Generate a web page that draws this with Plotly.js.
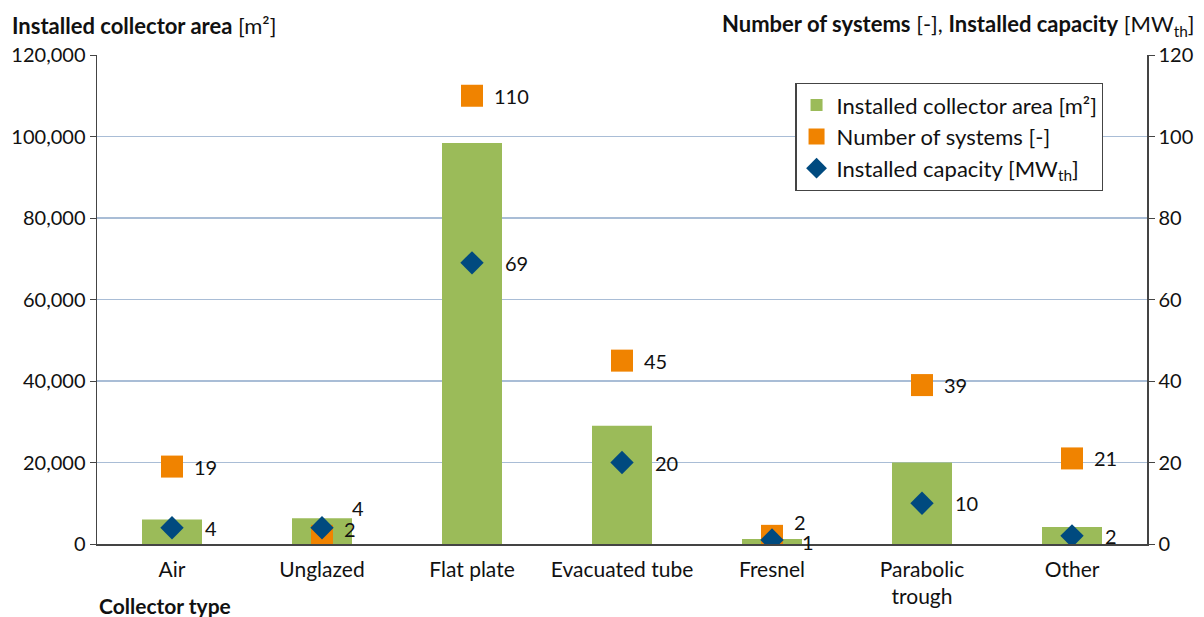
<!DOCTYPE html>
<html><head><meta charset="utf-8">
<script src="https://cdn.plot.ly/plotly-3.0.1.min.js"></script>
<style>html,body{margin:0;padding:0;background:#fff}#c{width:1204px;height:617px}</style>
</head><body><div id="c"></div>
<script>
const categories = ['Air','Unglazed','Flat plate','Evacuated tube','Fresnel','Parabolic<br>trough','Other'];
const collectorArea = [6000, 6300, 98400, 29000, 1200, 20000, 4200];
const numSystems = [19, 2, 110, 45, 2, 39, 21];
const capacity = [4, 4, 69, 20, 1, 10, 2];
const leftTicks = [0,20000,40000,60000,80000,100000,120000];
const rightTicks = [0,20,40,60,80,100,120];

const FONT = 'Lato, "Open Sans", sans-serif';
const green = '#9bbb59', orange = '#f08300', blue = '#004a7f';

// label nudges (style, not data) for overlapping labels
const sysShift = {1: 7, 4: 14};
const capShift = {1: 20, 4: -2};

const traces = [
  {type:'bar', x:categories, y:collectorArea, name:'Installed collector area [m²]',
   marker:{color:green}, width:0.4, yaxis:'y', hoverinfo:'skip'},
  {type:'scatter', mode:'markers', x:categories, y:numSystems, name:'Number of systems [-]',
   marker:{symbol:'square', size:22, color:orange}, yaxis:'y2', hoverinfo:'skip'},
  {type:'scatter', mode:'markers', x:categories, y:capacity, name:'Installed capacity [MW<sub>th</sub>]',
   marker:{symbol:'diamond', size:18, color:blue}, yaxis:'y2', hoverinfo:'skip'}
];

const annotations = [];
categories.forEach((c,i)=>{
  annotations.push({x:c, y:numSystems[i], xref:'x', yref:'y2', text:String(numSystems[i]),
    showarrow:false, xanchor:'left', yanchor:'middle', xshift:20, yshift:sysShift[i]||0,
    font:{family:FONT, size:20, color:'#111'}});
  annotations.push({x:c, y:capacity[i], xref:'x', yref:'y2', text:String(capacity[i]),
    showarrow:false, xanchor:'left', yanchor:'middle', xshift:(i===1||i===4)?28:31, yshift:capShift[i]||0,
    font:{family:FONT, size:20, color:'#111'}});
});
annotations.push({xref:'paper', yref:'paper', x:-0.083, y:1.061, xanchor:'left', yanchor:'middle',
  text:'<b>Installed collector area</b> [m²]', showarrow:false, font:{family:FONT, size:22, color:'#111'}});
annotations.push({xref:'paper', yref:'paper', x:1.048, y:1.061, xanchor:'right', yanchor:'middle',
  text:'<b>Number of systems</b> [-], <b>Installed capacity</b> [MW<sub>th</sub>]', showarrow:false, font:{family:FONT, size:22, color:'#111'}});
annotations.push({xref:'paper', yref:'paper', x:0, y:-0.125, xanchor:'left', yanchor:'middle',
  text:'<b>Collector type</b>', showarrow:false, font:{family:FONT, size:21, color:'#111'}});

const layout = {
  width:1204, height:617,
  margin:{l:97, r:57, t:55, b:73},
  paper_bgcolor:'#fff', plot_bgcolor:'#fff',
  font:{family:FONT, size:20, color:'#111'},
  showlegend:true,
  legend:{x:0.665, y:0.943, xanchor:'left', yanchor:'top', bgcolor:'#fff', bordercolor:'#444', borderwidth:1.3,
    font:{family:FONT, size:22, color:'#111'}, tracegroupgap:6, itemwidth:30},
  xaxis:{type:'category', showline:true, linecolor:'#444', linewidth:1.5, ticks:'', showgrid:false,
    tickfont:{family:FONT, size:21}, ticklabelstandoff:6, fixedrange:true},
  yaxis:{range:[0,120000], tickvals:leftTicks, ticktext:leftTicks.map(v=>v.toLocaleString('en-US')),
    showline:true, linecolor:'#444', linewidth:1.5, ticks:'outside', ticklen:6, tickcolor:'#444',
    showgrid:true, gridcolor:'#a9bdd6', gridwidth:1.5, zeroline:false, tickfont:{family:FONT, size:20}},
  yaxis2:{range:[0,120], tickvals:rightTicks, overlaying:'y', side:'right',
    showline:true, linecolor:'#444', linewidth:1.5, ticks:'outside', ticklen:6, tickcolor:'#444',
    showgrid:false, zeroline:false, tickfont:{family:FONT, size:20}},
  annotations:annotations
};
Plotly.newPlot('c', traces, layout, {displayModeBar:false, staticPlot:true});
</script></body></html>
